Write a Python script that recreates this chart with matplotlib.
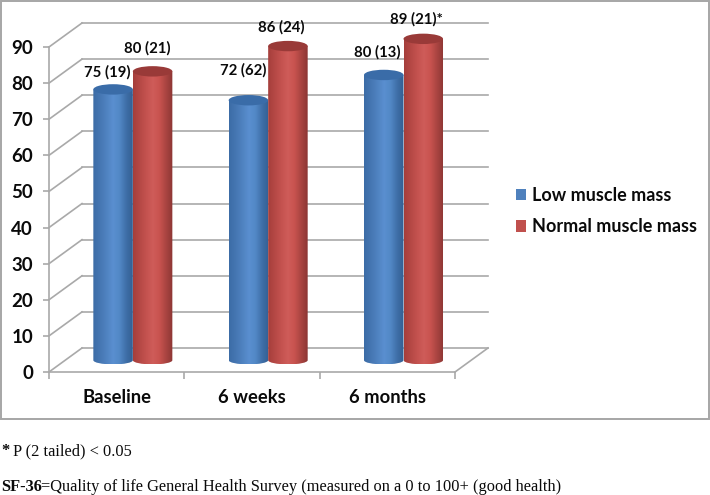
import numpy as np
import matplotlib
matplotlib.use("Agg")
import matplotlib.pyplot as plt
from matplotlib.colors import LinearSegmentedColormap
from matplotlib.patches import Ellipse, PathPatch, Rectangle, Patch
from matplotlib.path import Path

categories = ["Baseline", "6 weeks", "6 months"]
low_muscle = [75, 72, 79]
normal_muscle = [80, 87, 89]
low_labels = ["75 (19)", "72 (62)", "80 (13)"]
normal_labels = ["80 (21)", "86 (24)", "89 (21)*"]
series_names = ["Low muscle mass", "Normal muscle mass"]
y_ticks = list(range(0, 100, 10))

W, H = 710, 495
fig = plt.figure(figsize=(W / 100, H / 100), dpi=100, facecolor="white")
X0, X1, Y0, Y90 = 49, 455, 372, 47
ax = fig.add_axes([X0 / W, 1 - Y0 / H, (X1 - X0) / W, (Y0 - Y90) / H])
ax.set_facecolor("none")
ax.set_xlim(0, 3)
ax.set_ylim(0, 90)
px_x = 3 / (X1 - X0)
px_y = 90 / (Y0 - Y90)
DX, DY = 33 * px_x, 24 * px_y
GRID = "#a9a9a9"
SANS = "Lato"
INK = "#0a0a0a"

for s in ("top", "right"):
    ax.spines[s].set_visible(False)
for s in ("left", "bottom"):
    ax.spines[s].set_color(GRID)
    ax.spines[s].set_linewidth(1.2)

ax.set_yticks(y_ticks)
ax.set_xticks([0, 1, 2, 3])
ax.set_xticklabels([])
ax.set_xticks([0.5, 1.5, 2.5], minor=True)
ax.set_xticklabels(categories, minor=True, fontsize=13.2, fontweight="bold",
                   family=SANS, color=INK)
ax.tick_params(axis="x", which="major", length=5, color=GRID, width=1.2)
ax.tick_params(axis="x", which="minor", length=0, pad=12.5)
ax.tick_params(axis="y", length=4.5, color=GRID, width=1.2, pad=7)
for t in ax.get_yticklabels():
    t.set_fontsize(13.5)
    t.set_fontweight("bold")
    t.set_family(SANS)
    t.set_color(INK)

# 3-D walls
for v in y_ticks:
    ax.plot([DX, 3 + DX], [v + DY, v + DY], color=GRID, lw=1.2, clip_on=False, zorder=1)
    ax.plot([0, DX], [v, v + DY], color=GRID, lw=1.2, clip_on=False, zorder=1)
ax.plot([3, 3 + DX], [0, DY], color=GRID, lw=1.2, clip_on=False, zorder=1)

blue_cm = LinearSegmentedColormap.from_list(
    "b", ["#3c6ca6", "#4576b2", "#4f82c0", "#5a8fd0", "#5288c6", "#3f6fa8", "#335f93"])
red_cm = LinearSegmentedColormap.from_list(
    "r", ["#a53e3b", "#b54845", "#c4524f", "#cf5c59", "#c8534f", "#a94441", "#8c3634"])
grad = np.linspace(0, 1, 128).reshape(1, -1)

BAR_W = 39.5 * px_x
SHIFT = 0.49 * DX
BASE = 0.49 * DY
ry_bot = 4.2 * px_y
ry_top = 5.2 * px_y
K = 0.5523


def cylinder(cx, value, cmap, top_color, z):
    l, r = cx - BAR_W / 2, cx + BAR_W / 2
    top = BASE + value
    verts = [(l, top), (l, BASE), (l, BASE - K * ry_bot), (cx - K * BAR_W / 2, BASE - ry_bot),
             (cx, BASE - ry_bot), (cx + K * BAR_W / 2, BASE - ry_bot), (r, BASE - K * ry_bot),
             (r, BASE), (r, top), (l, top)]
    codes = [Path.MOVETO, Path.LINETO, Path.CURVE4, Path.CURVE4, Path.CURVE4, Path.CURVE4,
             Path.CURVE4, Path.CURVE4, Path.LINETO, Path.CLOSEPOLY]
    clip = PathPatch(Path(verts, codes), transform=ax.transData, fc="none", ec="none")
    ax.add_patch(clip)
    im = ax.imshow(grad, cmap=cmap, aspect="auto", extent=(l, r, BASE - ry_bot, top),
                   zorder=z, interpolation="bilinear")
    im.set_clip_box(fig.bbox)
    im.set_clip_path(clip)
    ax.add_patch(Ellipse((cx, top), BAR_W, 2 * ry_top, fc=top_color, ec="none",
                         zorder=z + 0.1, clip_on=False))


for i in range(len(categories)):
    c = i + 0.5 + SHIFT
    cylinder(c - BAR_W / 2, low_muscle[i], blue_cm, "#3a6ca8", 3)
    cylinder(c + BAR_W / 2, normal_muscle[i], red_cm, "#993a38", 4)
ax.set_xlim(0, 3)
ax.set_ylim(0, 90)

low_off = [(-6, 17), (-5, 30), (-7, 22.4)]
norm_off = [(-5, 23.4), (-7, 18.4), (-7, 19.4)]
for i in range(len(categories)):
    c = i + 0.5 + SHIFT
    for val, lab, off, sign in ((low_muscle[i], low_labels[i], low_off[i], -1),
                                (normal_muscle[i], normal_labels[i], norm_off[i], 1)):
        ax.annotate(lab, (c + sign * BAR_W / 2, BASE + val), xytext=(off[0] * 0.72, off[1] * 0.72),
                    textcoords="offset points", ha="center", va="center", fontsize=10.7,
                    fontweight="bold", family=SANS, color=INK, zorder=6,
                    annotation_clip=False)

# Legend
handles = [Patch(fc="#4f81bd", ec="none"), Patch(fc="#c0504d", ec="none")]
leg = fig.legend(handles, series_names, loc="center left",
                 bbox_to_anchor=(516 / W, 1 - 211 / H), frameon=False,
                 prop={"family": SANS, "weight": "bold", "size": 13},
                 handlelength=0.58, handleheight=0.62, handletextpad=0.33,
                 labelspacing=0.8, borderpad=0, borderaxespad=0, labelcolor=INK)

# Outer frame
fig.add_artist(Rectangle((1.5 / W, 1 - 419 / H), 707.5 / W, 418 / H, transform=fig.transFigure,
                         fc="none", ec="#a6a6a6", lw=1.4))

# Footnotes
SERIF = "Liberation Serif"
FS = 11.8
fig.text(1 / W, 1 - 451 / H, "*", fontsize=FS, fontweight="bold", family=SERIF, va="center", color=INK)
fig.text(13 / W, 1 - 451 / H, "P (2 tailed) < 0.05", fontsize=FS, family=SERIF, va="center", color=INK)
fig.text(1 / W, 1 - 487 / H, "SF-36", fontsize=FS, fontweight="bold", family=SERIF, va="center", color=INK)
fig.text(41 / W, 1 - 487 / H, "=Quality of life General Health Survey (measured on a 0 to 100+ (good health)",
         fontsize=FS, family=SERIF, va="center", color=INK)

fig.savefig("out.png", dpi=100, facecolor="white")
